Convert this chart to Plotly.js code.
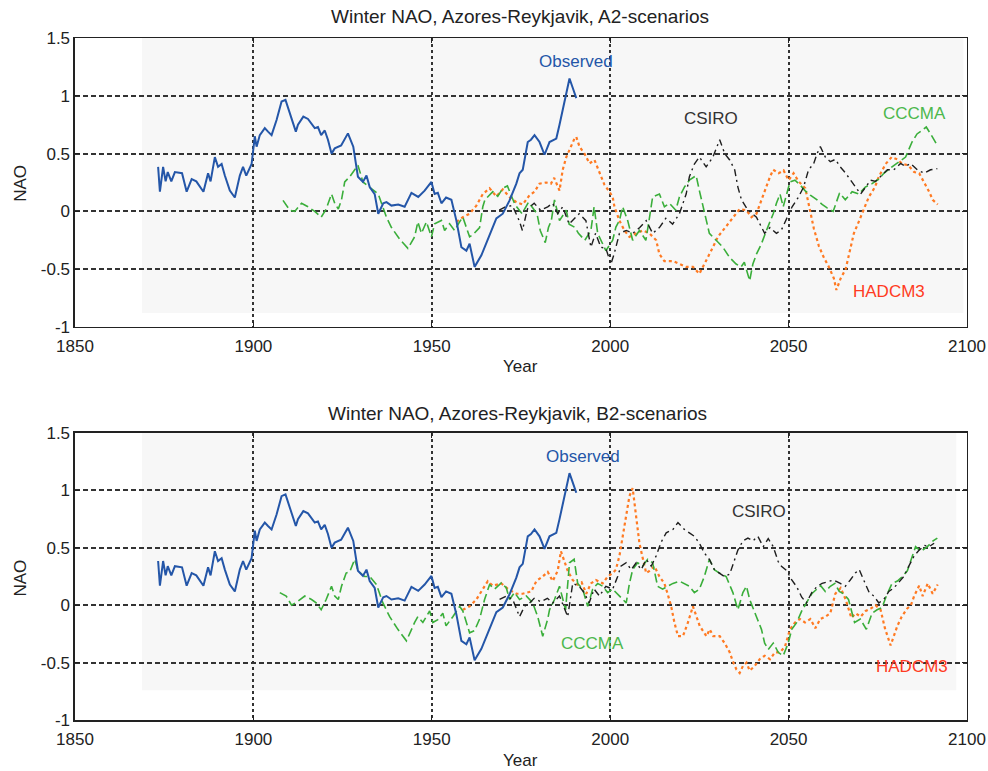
<!DOCTYPE html>
<html>
<head>
<meta charset="utf-8">
<script src="https://cdn.plot.ly/plotly-3.0.1.min.js"></script>
<style>
  html, body { margin: 0; padding: 0; background: #ffffff; }
  #chart { width: 988px; height: 771px; }
</style>
</head>
<body>
<div id="chart"></div>
<script>
// Observed winter NAO index (Azores minus Reykjavik, smoothed)
const obsYear = [1873.3,1873.8,1874.7,1875.4,1876.0,1877.0,1878.0,1880.0,1881.3,1882.7,1884.0,1886.0,1887.3,1888.0,1889.2,1890.1,1891.1,1892.0,1893.4,1894.8,1896.2,1897.1,1898.0,1899.5,1900.4,1900.9,1901.8,1903.2,1904.1,1905.1,1906.5,1907.9,1909.0,1910.2,1911.9,1912.5,1914.0,1915.3,1917.2,1918.1,1919.0,1920.0,1920.9,1921.9,1922.8,1924.6,1926.5,1928.0,1929.3,1930.7,1931.7,1932.6,1934.0,1935.0,1936.4,1937.3,1938.7,1940.6,1942.4,1944.3,1946.2,1948.0,1949.9,1950.8,1951.7,1952.7,1954.0,1955.5,1956.9,1958.3,1959.7,1960.6,1962.0,1963.9,1966.2,1968.1,1969.9,1971.8,1973.7,1974.6,1975.5,1976.9,1977.8,1978.8,1980.2,1981.6,1983.0,1984.9,1985.8,1987.2,1988.6,1989.5,1990.5];
const obsNAO  = [0.385,0.17,0.385,0.26,0.34,0.26,0.34,0.33,0.17,0.28,0.26,0.17,0.33,0.26,0.47,0.385,0.41,0.31,0.18,0.12,0.31,0.385,0.31,0.41,0.65,0.56,0.66,0.72,0.69,0.66,0.79,0.95,0.965,0.85,0.69,0.75,0.82,0.80,0.72,0.73,0.66,0.70,0.62,0.50,0.545,0.57,0.675,0.56,0.30,0.255,0.31,0.21,0.15,-0.02,0.07,0.08,0.05,0.06,0.04,0.16,0.125,0.18,0.255,0.15,0.16,0.07,0.12,0.10,-0.08,-0.31,-0.34,-0.28,-0.48,-0.38,-0.21,-0.06,-0.02,0.095,0.24,0.33,0.36,0.60,0.62,0.66,0.60,0.49,0.60,0.63,0.75,0.965,1.15,1.07,0.98];

// A2 scenario model runs
const cccmaA2Year = [1908.3,1910.2,1911.6,1913.5,1915.3,1917.2,1919.0,1920.4,1921.9,1922.8,1923.8,1924.7,1925.6,1927.0,1928.4,1929.3,1930.7,1932.6,1935.0,1937.3,1938.7,1941.0,1943.3,1945.2,1946.1,1947.1,1948.5,1949.9,1950.8,1952.7,1953.6,1955.0,1956.4,1957.8,1958.7,1960.6,1961.6,1963.4,1964.3,1964.9,1967.1,1968.5,1969.9,1971.2,1973.3,1975.3,1977.1,1979.5,1980.4,1981.8,1982.7,1983.5,1984.4,1985.8,1987.7,1988.5,1990.2,1991.1,1992.9,1994.6,1995.5,1996.5,1998.8,2000.7,2001.6,2002.6,2003.5,2004.9,2006.3,2008.2,2010.0,2010.9,2011.9,2013.8,2015.2,2016.6,2018.4,2019.4,2020.8,2022.2,2024.1,2025.0,2026.4,2027.8,2029.7,2031.6,2033.5,2035.3,2036.7,2037.6,2039.1,2040.0,2041.0,2042.4,2043.8,2045.7,2046.6,2047.6,2048.5,2050.4,2051.8,2053.2,2054.6,2056.1,2058.0,2059.4,2060.8,2062.5,2064.3,2065.9,2067.8,2069.7,2071.5,2073.4,2075.3,2076.7,2079.0,2081.4,2082.8,2084.6,2086.0,2087.4,2088.6,2090.3,2091.5];
const cccmaA2NAO  = [0.095,0.01,0.0,0.07,0.04,0.0,-0.05,0.02,0.15,0.07,0.02,0.1,0.255,0.30,0.36,0.40,0.255,0.21,0.15,-0.05,-0.14,-0.24,-0.32,-0.22,-0.09,-0.19,-0.09,-0.22,-0.107,-0.078,-0.165,-0.107,-0.165,-0.09,-0.05,-0.22,-0.2,-0.14,0.04,0.1,0.17,0.13,0.2,0.22,0.06,-0.02,0.08,-0.02,-0.165,-0.27,-0.14,-0.08,0.1,-0.08,0.01,-0.11,-0.14,-0.19,-0.25,-0.165,0.04,-0.19,-0.34,-0.25,-0.136,-0.078,0.04,-0.078,-0.25,-0.165,-0.25,-0.078,0.125,0.15,0.04,0.07,0.01,0.125,0.21,0.27,0.31,0.18,-0.02,-0.19,-0.25,-0.31,-0.4,-0.455,-0.48,-0.44,-0.6,-0.455,-0.37,-0.28,-0.165,-0.02,0.07,0.15,0.04,0.255,0.27,0.23,0.18,0.14,0.1,0.06,0.03,0.0,0.16,0.1,0.17,0.15,0.21,0.24,0.28,0.33,0.385,0.44,0.47,0.6,0.67,0.70,0.73,0.645,0.58];

const hadcm3A2Year = [1956.9,1958.7,1960.6,1962.5,1964.3,1966.2,1968.1,1969.9,1971.8,1973.7,1975.5,1977.4,1978.8,1980.2,1982.0,1983.4,1984.3,1985.8,1986.7,1987.7,1989.0,1990.0,1990.5,1991.4,1992.8,1994.2,1995.6,1997.0,1998.4,1999.8,2000.7,2001.2,2002.6,2004.0,2005.4,2007.3,2009.2,2011.0,2012.9,2013.8,2015.2,2017.6,2019.4,2021.3,2023.2,2025.0,2026.0,2027.4,2028.8,2030.2,2031.6,2033.0,2034.4,2036.3,2038.2,2039.6,2041.0,2042.4,2043.9,2044.8,2045.7,2047.2,2048.6,2050.0,2051.4,2052.8,2054.7,2056.1,2057.1,2058.5,2059.9,2061.3,2062.7,2063.4,2064.6,2066.0,2066.9,2068.3,2069.8,2071.4,2072.5,2074.2,2075.3,2077.2,2078.9,2080.5,2081.9,2083.5,2085.2,2086.6,2088.0,2089.4,2090.4,2091.8];
const hadcm3A2NAO  = [-0.09,-0.05,-0.02,0.05,0.15,0.2,0.13,0.19,0.125,0.08,0.06,0.14,0.17,0.24,0.25,0.24,0.29,0.18,0.36,0.47,0.56,0.63,0.645,0.56,0.5,0.415,0.445,0.33,0.23,0.17,0.125,0.04,-0.08,-0.165,-0.22,-0.19,-0.165,-0.19,-0.25,-0.37,-0.43,-0.43,-0.455,-0.48,-0.48,-0.54,-0.48,-0.4,-0.31,-0.22,-0.165,-0.11,-0.05,0.02,0.01,-0.05,-0.02,0.1,0.21,0.3,0.36,0.33,0.355,0.27,0.33,0.26,0.2,0.0,-0.15,-0.3,-0.4,-0.48,-0.58,-0.68,-0.58,-0.5,-0.37,-0.19,-0.08,0.04,0.125,0.21,0.3,0.41,0.47,0.45,0.41,0.40,0.34,0.33,0.255,0.17,0.1,0.06];

const csiroA2Year = [1968.9,1970.7,1972.6,1974.5,1975.4,1976.8,1978.7,1980.5,1982.5,1983.9,1985.3,1986.7,1988.5,1991.3,1993.2,1994.6,1995.9,1997.4,1998.8,2000.2,2001.1,2002.6,2004.5,2006.3,2008.3,2010.1,2011.9,2013.8,2015.6,2017.5,2019.4,2021.3,2022.2,2023.6,2025.0,2026.9,2028.8,2030.7,2032.1,2033.5,2034.9,2035.8,2036.8,2038.6,2041.0,2043.3,2044.8,2046.6,2048.0,2049.6,2051.0,2052.8,2054.2,2055.6,2057.0,2058.0,2058.9,2060.3,2061.7,2063.1,2064.5,2066.0,2067.4,2068.8,2070.2,2071.6,2073.0,2074.4,2075.8,2077.7,2079.5,2081.4,2082.8,2084.2,2086.1,2088.0,2089.8,2091.7];
const csiroA2NAO  = [0.01,0.04,0.05,-0.08,-0.165,0.02,0.07,0.01,0.04,0.07,-0.02,0.04,-0.11,-0.02,-0.08,-0.31,-0.19,-0.31,-0.32,-0.455,-0.37,-0.19,-0.165,-0.19,-0.14,-0.08,-0.19,-0.14,-0.06,-0.11,-0.02,0.15,0.3,0.41,0.47,0.385,0.47,0.62,0.5,0.445,0.36,0.21,0.1,0.01,-0.05,-0.19,-0.14,-0.19,-0.16,-0.05,0.04,0.125,0.21,0.36,0.41,0.5,0.56,0.47,0.43,0.45,0.385,0.33,0.27,0.21,0.15,0.21,0.27,0.26,0.3,0.36,0.36,0.415,0.39,0.415,0.36,0.33,0.36,0.37];

// B2 scenario model runs
const cccmaB2Year = [1907.4,1909.2,1910.7,1912.5,1914.4,1916.3,1917.6,1919.0,1920.4,1921.9,1922.8,1923.8,1924.7,1926.0,1927.0,1928.4,1929.3,1931.2,1932.6,1934.5,1936.3,1938.2,1940.5,1942.9,1945.2,1946.1,1947.5,1949.4,1950.3,1951.7,1953.1,1954.0,1955.9,1957.8,1958.7,1960.6,1962.0,1963.4,1964.8,1966.2,1967.6,1969.5,1970.9,1971.8,1973.2,1974.6,1976.5,1978.3,1979.7,1981.1,1982.5,1983.0,1984.4,1985.8,1987.5,1988.6,1989.9,1990.9,1992.3,1993.7,1995.1,1996.5,1997.9,1999.3,2000.7,2002.6,2004.5,2005.4,2006.3,2007.7,2009.1,2010.5,2011.9,2013.3,2014.7,2016.1,2017.6,2019.4,2020.8,2022.2,2023.6,2025.0,2026.4,2027.8,2029.2,2030.6,2032.5,2034.4,2035.8,2037.2,2038.2,2039.1,2041.0,2042.4,2043.3,2044.3,2045.7,2047.1,2048.5,2049.9,2050.9,2052.3,2053.7,2055.1,2056.5,2057.9,2059.0,2060.3,2061.7,2063.0,2064.2,2065.4,2066.8,2068.5,2070.1,2071.8,2073.4,2074.8,2076.2,2077.4,2079.0,2080.5,2081.9,2083.3,2084.7,2085.6,2087.1,2088.9,2090.5,2091.7];
const cccmaB2NAO  = [0.11,0.08,0.0,0.035,0.08,0.05,0.02,-0.04,0.05,0.165,0.08,0.05,0.165,0.28,0.29,0.4,0.3,0.25,0.25,0.18,0.02,-0.1,-0.21,-0.31,-0.15,-0.1,-0.15,-0.05,-0.15,-0.125,-0.07,-0.18,-0.1,-0.01,-0.05,-0.24,-0.22,-0.12,0.05,0.18,0.14,0.195,0.15,0.05,0.11,0.05,0.08,0.02,-0.1,-0.27,-0.12,-0.04,0.05,0.165,-0.04,0.37,0.4,0.19,0.14,-0.01,0.14,0.19,0.165,0.11,0.14,0.08,0.02,0.19,0.31,0.37,0.34,0.4,0.37,0.165,0.14,0.165,0.19,0.21,0.19,0.165,0.11,0.14,0.25,0.4,0.31,0.28,0.25,0.11,-0.04,0.11,0.165,0.05,-0.1,-0.21,-0.33,-0.385,-0.33,-0.41,-0.44,-0.33,-0.21,-0.15,-0.05,0.02,0.1,0.14,0.17,0.12,0.165,0.19,0.12,0.1,0.05,-0.15,-0.12,-0.21,-0.07,-0.04,-0.02,0.08,0.19,0.21,0.25,0.3,0.43,0.51,0.47,0.51,0.56,0.585];

const hadcm3B2Year = [1958.7,1960.6,1962.5,1964.3,1965.7,1967.1,1969.5,1971.4,1973.7,1975.5,1977.9,1979.3,1981.1,1982.5,1983.9,1985.3,1986.2,1987.2,1988.1,1989.5,1990.9,1992.0,1993.3,1994.6,1996.0,1997.9,1999.3,2000.7,2001.6,2002.6,2003.5,2004.5,2005.4,2006.3,2007.3,2008.2,2009.2,2010.1,2011.0,2012.4,2013.8,2015.2,2016.1,2017.1,2018.0,2019.0,2020.4,2021.8,2023.2,2024.1,2025.1,2027.0,2027.9,2028.9,2030.7,2032.1,2033.5,2034.4,2035.4,2036.3,2037.2,2038.2,2039.1,2040.5,2041.9,2043.3,2044.8,2046.2,2047.6,2049.0,2050.4,2051.8,2053.2,2054.6,2056.1,2057.5,2058.9,2060.3,2061.7,2063.1,2064.6,2066.0,2067.6,2068.8,2070.2,2071.6,2073.0,2074.4,2075.8,2077.0,2078.6,2080.5,2081.7,2083.2,2084.3,2085.2,2086.6,2087.6,2089.0,2090.4,2091.8];
const hadcm3B2NAO  = [-0.04,-0.01,0.05,0.14,0.21,0.17,0.19,0.14,0.1,0.1,0.12,0.21,0.25,0.29,0.21,0.3,0.47,0.38,0.3,0.22,0.18,0.2,0.1,0.19,0.22,0.19,0.25,0.28,0.31,0.43,0.6,0.8,0.95,1.02,0.77,0.54,0.4,0.28,0.3,0.34,0.25,0.19,0.1,-0.01,-0.15,-0.27,-0.27,-0.15,-0.01,-0.1,-0.18,-0.27,-0.21,-0.27,-0.27,-0.33,-0.41,-0.49,-0.56,-0.59,-0.53,-0.5,-0.57,-0.53,-0.47,-0.44,-0.47,-0.41,-0.41,-0.36,-0.21,-0.15,-0.12,-0.15,-0.12,-0.2,-0.12,-0.1,-0.07,0.1,0.15,0.05,-0.11,-0.07,-0.1,-0.05,-0.03,0.0,-0.04,-0.2,-0.35,-0.18,-0.1,-0.03,0.0,0.08,0.17,0.08,0.19,0.1,0.18];

const csiroB2Year = [1969.0,1970.9,1972.7,1974.6,1976.0,1977.4,1978.7,1980.6,1982.4,1983.9,1985.8,1987.2,1988.1,1989.5,1991.3,1992.7,1994.1,1995.5,1997.0,1998.8,2000.7,2002.1,2003.0,2004.5,2005.9,2007.3,2008.7,2010.1,2011.5,2012.9,2014.3,2015.7,2017.6,2019.0,2020.8,2022.2,2023.6,2025.0,2026.4,2027.8,2029.2,2030.6,2032.0,2033.5,2034.9,2035.8,2037.2,2038.6,2040.0,2041.4,2042.9,2044.3,2045.7,2047.1,2048.0,2049.5,2050.9,2052.3,2053.7,2055.0,2056.5,2058.0,2059.4,2060.6,2062.6,2064.5,2065.9,2067.3,2068.7,2069.8,2071.4,2072.6,2073.9,2075.3,2076.7,2078.1,2079.5,2080.9,2082.3,2083.7,2085.2,2086.6,2088.2,2089.4,2090.8];
const csiroB2NAO  = [0.05,0.08,0.05,-0.1,-0.01,0.02,0.06,0.03,0.06,0.02,0.08,-0.04,-0.1,0.19,0.165,0.11,0.02,0.14,0.08,0.165,0.14,0.25,0.34,0.37,0.31,0.37,0.31,0.4,0.34,0.43,0.55,0.63,0.66,0.72,0.66,0.63,0.6,0.54,0.455,0.4,0.31,0.28,0.25,0.27,0.4,0.48,0.56,0.585,0.56,0.6,0.51,0.58,0.51,0.38,0.34,0.3,0.22,0.16,0.07,0.02,0.11,0.165,0.19,0.2,0.22,0.19,0.165,0.22,0.28,0.31,0.2,0.11,0.08,0.02,0.05,0.12,0.15,0.2,0.25,0.34,0.43,0.48,0.52,0.51,0.54];

// Axis ticks
const yearTicks = [1850, 1900, 1950, 2000, 2050, 2100];
const naoTicks  = [-1, -0.5, 0, 0.5, 1, 1.5];
const naoTickText = ['-1', '-0.5', '0', '0.5', '1', '1.5'];

const titleA2 = 'Winter NAO, Azores-Reykjavik, A2-scenarios';
const titleB2 = 'Winter NAO, Azores-Reykjavik, B2-scenarios';

const FONT = 'Liberation Sans, Arial, sans-serif';
const C_OBS = '#2456a8';
const C_CCCMA = '#3aae3a';
const C_HAD = '#ff7a22';
const C_CSIRO = '#1e1e1e';

function series(x, y, xa, ya, color, dash, width, name) {
  return { type: 'scatter', mode: 'lines', x: x, y: y, xaxis: xa, yaxis: ya,
           name: name, showlegend: false, hoverinfo: 'skip',
           line: { color: color, dash: dash, width: width } };
}

const traces = [
  series(hadcm3A2Year, hadcm3A2NAO, 'x', 'y', C_HAD, 'dot', 2.2, 'HADCM3'),
  series(cccmaA2Year, cccmaA2NAO, 'x', 'y', C_CCCMA, '9px,4px', 1.6, 'CCCMA'),
  series(csiroA2Year, csiroA2NAO, 'x', 'y', C_CSIRO, '7px,4px,2px,4px', 1.4, 'CSIRO'),
  series(obsYear, obsNAO, 'x', 'y', C_OBS, 'solid', 2, 'Observed'),

  series(hadcm3B2Year, hadcm3B2NAO, 'x2', 'y2', C_HAD, 'dot', 2.2, 'HADCM3'),
  series(cccmaB2Year, cccmaB2NAO, 'x2', 'y2', C_CCCMA, '9px,4px', 1.6, 'CCCMA'),
  series(csiroB2Year, csiroB2NAO, 'x2', 'y2', C_CSIRO, '7px,4px,2px,4px', 1.4, 'CSIRO'),
  series(obsYear, obsNAO, 'x2', 'y2', C_OBS, 'solid', 2, 'Observed')
];

function xAxis(anchor) {
  return { domain: [0.0759, 0.9787], anchor: anchor, range: [1850, 2100],
           tickmode: 'array', tickvals: yearTicks, ticks: 'inside', ticklen: 5,
           tickcolor: '#222', showline: true, linecolor: '#222', linewidth: 1.5,
           mirror: 'ticks', showgrid: true, gridcolor: '#333', gridwidth: 2,
           griddash: '3px,3px', zeroline: false, ticklabelstandoff: 3,
           tickfont: { family: FONT, size: 17, color: '#222' } };
}
function yAxis(anchor, domain) {
  return { domain: domain, anchor: anchor, range: [-1, 1.5],
           tickmode: 'array', tickvals: naoTicks, ticktext: naoTickText,
           ticks: 'inside', ticklen: 5, tickcolor: '#222',
           showline: true, linecolor: '#222', linewidth: 1.5, mirror: 'ticks',
           showgrid: true, gridcolor: '#333', gridwidth: 2, griddash: '5px,3px',
           zeroline: false, tickfont: { family: FONT, size: 17, color: '#222' } };
}

function label(text, x, y, xref, yref, color, extra) {
  return Object.assign({ text: text, x: x, y: y, xref: xref, yref: yref,
    xanchor: 'center', yanchor: 'middle',
    showarrow: false, font: { family: FONT, size: 17, color: color } }, extra || {});
}
const titleFont = { family: FONT, size: 19, color: '#222' };

const layout = {
  width: 988, height: 771,
  margin: { l: 0, r: 0, t: 0, b: 0 },
  paper_bgcolor: '#ffffff', plot_bgcolor: '#ffffff',
  font: { family: FONT, size: 17, color: '#222' },
  xaxis: xAxis('y'),
  yaxis: yAxis('x', [0.5759, 0.9507]),
  xaxis2: xAxis('y2'),
  yaxis2: yAxis('x2', [0.0661, 0.4384]),
  shapes: [
    { type: 'rect', xref: 'x', yref: 'y', x0: 1868.8, x1: 2099, y0: -0.88, y1: 1.5,
      fillcolor: '#f7f7f7', line: { width: 0 }, layer: 'below' },
    { type: 'rect', xref: 'x2', yref: 'y2', x0: 1868.8, x1: 2097, y0: -0.74, y1: 1.5,
      fillcolor: '#f7f7f7', line: { width: 0 }, layer: 'below' }
  ],
  annotations: [
    label(titleA2, 0.526, 0.978, 'paper', 'paper', '#222', { font: titleFont }),
    label(titleB2, 0.524, 0.4643, 'paper', 'paper', '#222', { font: titleFont }),
    label('Year', 0.527, 0.524, 'paper', 'paper', '#222'),
    label('Year', 0.527, 0.0130, 'paper', 'paper', '#222'),
    label('NAO', 0.0205, 0.762, 'paper', 'paper', '#222', { textangle: -90 }),
    label('NAO', 0.0205, 0.250, 'paper', 'paper', '#222', { textangle: -90 }),

    label('Observed', 1990.4, 1.30, 'x', 'y', C_OBS),
    label('CSIRO', 2028.2, 0.805, 'x', 'y', '#333'),
    label('CCCMA', 2085.2, 0.85, 'x', 'y', '#4cb84c'),
    label('HADCM3', 2078.2, -0.69, 'x', 'y', '#ff3b22'),

    label('Observed', 1992.3, 1.295, 'x2', 'y2', C_OBS),
    label('CSIRO', 2041.8, 0.82, 'x2', 'y2', '#333'),
    label('CCCMA', 1995.1, -0.33, 'x2', 'y2', '#4cb84c'),
    label('HADCM3', 2084.7, -0.53, 'x2', 'y2', '#ff3b22')
  ]
};

Plotly.newPlot('chart', traces, layout, { staticPlot: true, displayModeBar: false });
</script>
</body>
</html>
